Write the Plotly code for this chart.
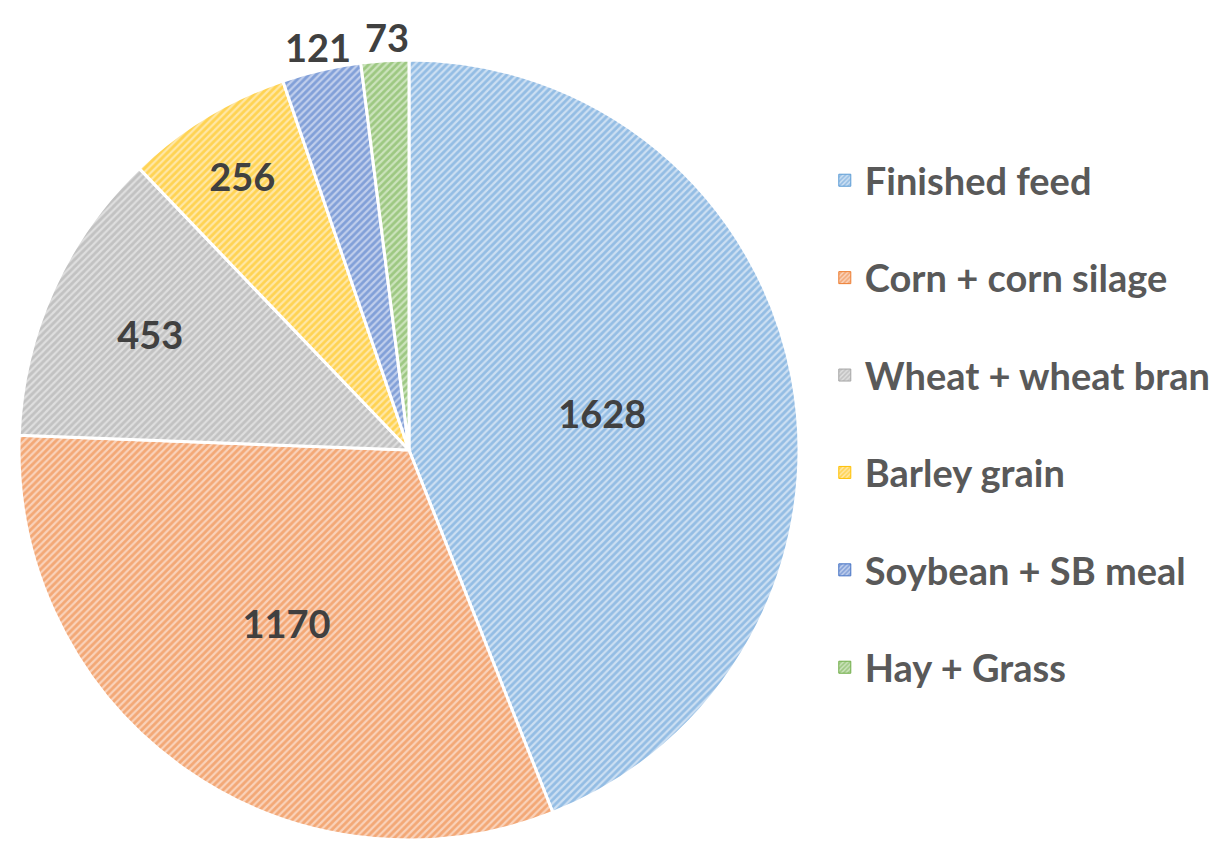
import math
import plotly.graph_objects as go

labels = ["Finished feed", "Corn + corn silage", "Wheat + wheat bran",
          "Barley grain", "Soybean + SB meal", "Hay + Grass"]
values = [1628, 1170, 453, 256, 121, 73]
colors = ["#5B9BD5", "#ED7D31", "#A5A5A5", "#FFC000", "#4472C4", "#70AD47"]
bg_colors = ["#CCDFF2", "#F9D2BA", "#DEDEDE", "#FFE7A6", "#C0CEEC", "#CBE3BC"]
inside = [True, True, True, True, False, False]

FONT = "Lato"
W, H = 1220, 843
CX, CY, R = 409, 449, 390   # wanted pixel geometry of the pie (top-left origin)
DX, DY = -8, -7             # correction for plotly's placement of the pie in its domain

fig = go.Figure()
fig.add_trace(go.Pie(
    labels=labels, values=values, sort=False, direction="clockwise", rotation=0,
    text=[str(v) if ins else "" for v, ins in zip(values, inside)],
    texttemplate="%{text}", textposition="inside",
    insidetextorientation="horizontal",
    textfont=dict(family=FONT, size=38, color="#404040", weight="bold"),
    marker=dict(colors=bg_colors,
                line=dict(color="white", width=3),
                pattern=dict(shape="/", fgcolor=colors, bgcolor=bg_colors,
                             size=5, solidity=0.55, fillmode="overlay")),
    showlegend=False, hoverinfo="label+value",
    domain=dict(x=[(CX + DX - R) / W, (CX + DX + R) / W],
                y=[(H - CY - DY - R) / H, (H - CY - DY + R) / H]),
))

# outside labels for the small slices, placed from the slice mid-angles
total = sum(values)
cum = 0
for v, ins in zip(values, inside):
    mid = (cum + v / 2) / total * 2 * math.pi
    cum += v
    if ins:
        continue
    r = R * 1.08
    px = CX + r * math.sin(mid) - 4
    py = CY - r * math.cos(mid)
    fig.add_annotation(x=px / W, y=1 - py / H, xref="paper", yref="paper",
                       xanchor="center", yanchor="middle",
                       text=str(v), showarrow=False,
                       font=dict(family=FONT, size=38, color="#404040", weight="bold"))

for lab, c, b in zip(labels, colors, bg_colors):
    fig.add_trace(go.Bar(
        x=[None], y=[None], name=lab, legendgroup=lab,
        marker=dict(color=b, line=dict(color=c, width=1),
                    pattern=dict(shape="/", fgcolor=c, bgcolor=b, size=4, solidity=0.5)),
    ))

fig.update_layout(
    width=W, height=H,
    margin=dict(l=0, r=0, t=0, b=0),
    paper_bgcolor="white", plot_bgcolor="white",
    xaxis=dict(visible=False), yaxis=dict(visible=False),
    legend=dict(x=0.6695, y=0.8327, xanchor="left", yanchor="top",
                font=dict(family=FONT, size=38, color="#595959", weight="bold"),
                tracegroupgap=45, itemclick=False),
)

fig.write_html("out.html")
